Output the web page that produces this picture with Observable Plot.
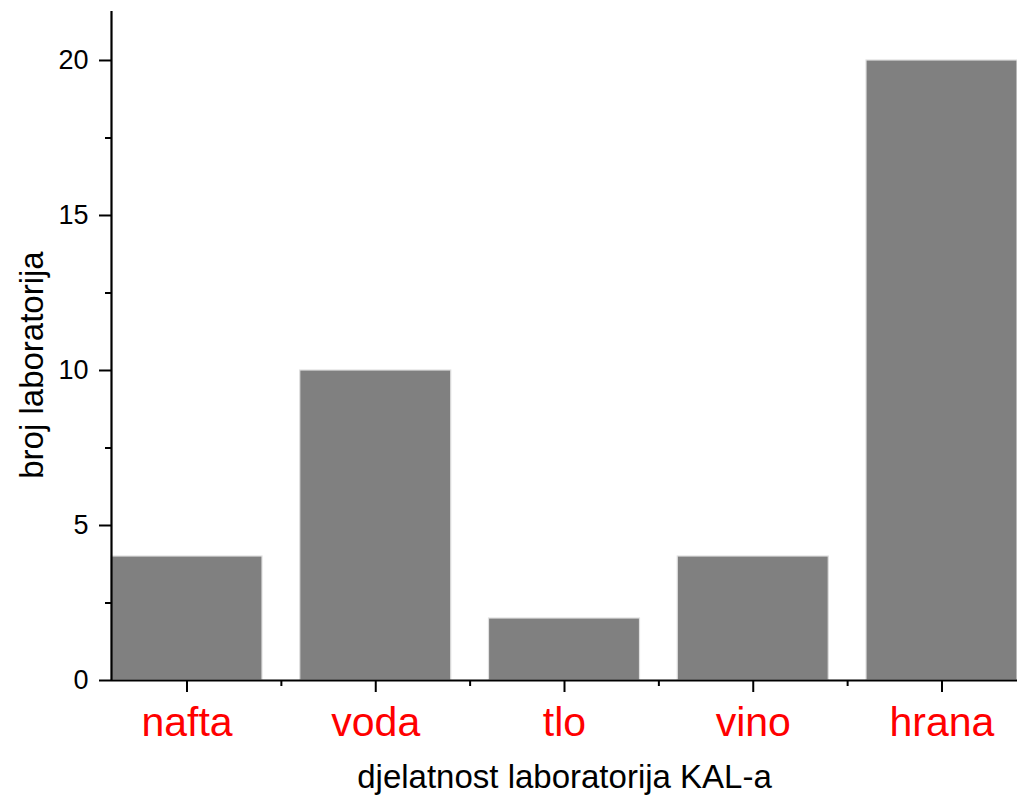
<!DOCTYPE html>
<html>
<head>
<meta charset="utf-8">
<script src="https://cdn.jsdelivr.net/npm/d3@7"></script>
<script src="https://cdn.jsdelivr.net/npm/@observablehq/plot@0.6"></script>
<style>
  html, body { margin: 0; padding: 0; background: #fff; }
</style>
</head>
<body>
<div id="chart"></div>
<script>
const categories = ["nafta", "voda", "tlo", "vino", "hrana"];
const counts = [4, 10, 2, 4, 20];
const yTicks = [0, 5, 10, 15, 20];
const yMinorTicks = [2.5, 7.5, 12.5, 17.5];
const xTitle = "djelatnost laboratorija KAL-a";
const yTitle = "broj laboratorija";

const positions = categories.map((c, i) => i + 1);
const minorX = positions.slice(0, -1).map(p => p + 0.5);
const data = categories.map((c, i) => ({cat: c, pos: positions[i], value: counts[i]}));
const halfBar = 0.4;

const chart = Plot.plot({
  width: 1017,
  height: 801,
  marginLeft: 111,
  marginRight: 0,
  marginTop: 11,
  marginBottom: 121,
  style: {fontFamily: "'Liberation Sans', Arial, sans-serif", background: "#fff", color: "#000"},
  x: {domain: [0.6, 5.4]},
  y: {domain: [0, 21.58]},
  marks: [
    Plot.rectY(data, {x1: d => d.pos - halfBar, x2: d => d.pos + halfBar, y: "value", fill: "#808080", stroke: "#e0e0e0", strokeWidth: 1.2}),
    Plot.ruleX([0.6], {stroke: "#000", strokeWidth: 2.2}),
    Plot.ruleY([0], {stroke: "#000", strokeWidth: 2.2}),
    Plot.axisY(yTicks, {tickSize: 12, tickPadding: 11, fontSize: 27, strokeWidth: 2, label: null}),
    Plot.axisY(yMinorTicks, {tickSize: 6, tickFormat: () => "", strokeWidth: 2, label: null}),
    Plot.axisX(positions, {tickSize: 12, tickFormat: () => "", strokeWidth: 2, label: null}),
    Plot.axisX(minorX, {tickSize: 6, tickFormat: () => "", strokeWidth: 2, label: null}),
    Plot.axisX(positions, {tickSize: 0, tickPadding: 26, fontSize: 41, color: "#ff0000", tickFormat: (d) => categories[d - 1], label: null}),
    Plot.text([xTitle], {frameAnchor: "bottom", lineAnchor: "top", dy: 84, fontSize: 33, fill: "#000"}),
    Plot.text([yTitle], {frameAnchor: "left", rotate: -90, textAnchor: "middle", lineAnchor: "middle", dx: -79, dy: 19, fontSize: 33, fill: "#000"})
  ]
});
document.getElementById("chart").appendChild(chart);
</script>
</body>
</html>
